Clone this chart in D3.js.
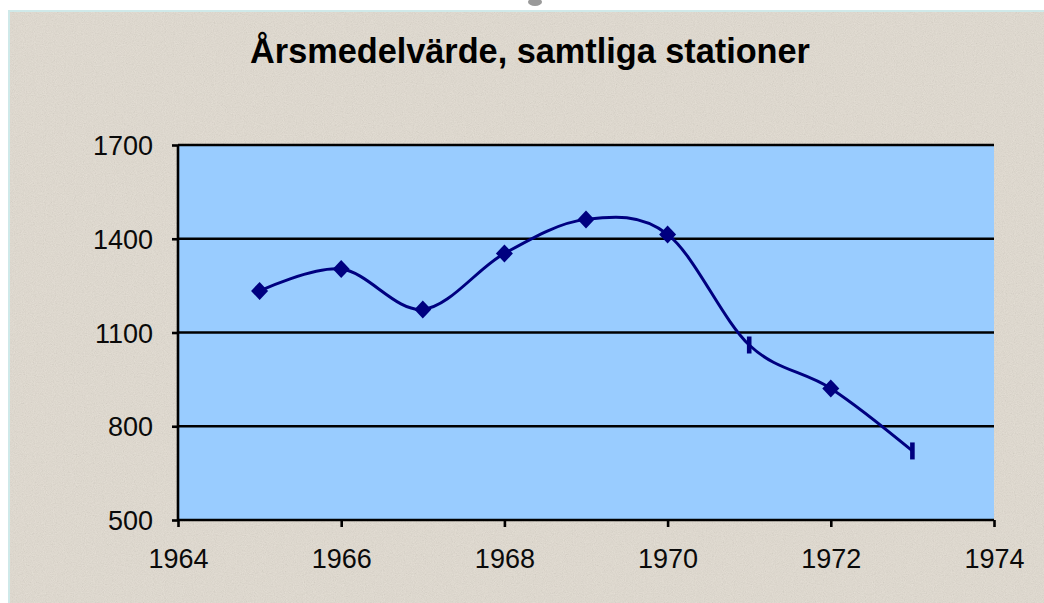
<!DOCTYPE html>
<html>
<head>
<meta charset="utf-8">
<script src="https://cdn.jsdelivr.net/npm/d3@7"></script>
<style>
  html, body { margin: 0; padding: 0; background: #ffffff; }
  svg { display: block; }
</style>
</head>
<body>
<svg id="chart" width="1044" height="603"></svg>
<script>
// ---- data ----
const title = "Årsmedelvärde, samtliga stationer";
const years = [1965, 1966, 1967, 1968, 1969, 1970, 1971, 1972, 1973];
const values = [1233, 1303, 1174, 1353, 1462, 1414, 1060, 921, 721];
const xTicks = [1964, 1966, 1968, 1970, 1972, 1974];
const yTicks = [500, 800, 1100, 1400, 1700];
const barMarkerYears = [1971, 1973];

// ---- layout ----
const W = 1044, H = 603;
const plot = { left: 178, right: 994, top: 145, bottom: 520 };
const svg = d3.select("#chart");
const defs = svg.append("defs");

const f = defs.append("filter").attr("id", "paper").attr("x", 0).attr("y", 0).attr("width", "100%").attr("height", "100%");
f.append("feTurbulence").attr("type", "fractalNoise").attr("baseFrequency", 0.9).attr("numOctaves", 3).attr("seed", 7);
f.append("feColorMatrix").attr("type", "matrix")
  .attr("values", "0.33 0.33 0.33 0 0  0.33 0.33 0.33 0 0  0.33 0.33 0.33 0 0  0 0 0 0 1");

// page
svg.append("rect").attr("width", W).attr("height", H).attr("fill", "#ffffff");
svg.append("rect").attr("x", 8).attr("y", 10).attr("width", W - 8).attr("height", H - 10).attr("fill", "#cfe9e9");
svg.append("rect").attr("x", 10).attr("y", 12).attr("width", W - 10).attr("height", H - 12).attr("fill", "#e6dfd3");
svg.append("rect").attr("x", 10).attr("y", 12).attr("width", W - 10).attr("height", H - 12)
  .attr("filter", "url(#paper)").attr("opacity", 0.2);
svg.append("ellipse").attr("cx", 535).attr("cy", 2).attr("rx", 7).attr("ry", 4).attr("fill", "#9a9a9a");

// title
const t = svg.append("text")
  .attr("x", 530).attr("y", 63)
  .attr("text-anchor", "middle")
  .attr("font-family", "Liberation Sans, Arial, sans-serif")
  .attr("font-weight", "bold")
  .attr("font-size", 25)
  .attr("fill", "#000")
  .text(title);
let fs = 25;
for (let i = 0; i < 6; i++) {
  const len = t.node().getComputedTextLength();
  fs = fs * 560 / len;
  t.attr("font-size", fs);
}

// scales
const x = d3.scaleLinear().domain([1964, 1974]).range([plot.left, plot.right]);
const y = d3.scaleLinear().domain([500, 1700]).range([plot.bottom, plot.top]);

// plot background
svg.append("rect")
  .attr("x", plot.left).attr("y", plot.top)
  .attr("width", plot.right - plot.left).attr("height", plot.bottom - plot.top)
  .attr("fill", "#99ccff");

// gridlines
svg.append("g").selectAll("line").data(yTicks.filter(d => d > 500)).join("line")
  .attr("x1", plot.left).attr("x2", plot.right)
  .attr("y1", d => y(d)).attr("y2", d => y(d))
  .attr("stroke", "#000").attr("stroke-width", 2.4);

// axes
const xAxis = svg.append("g").attr("transform", `translate(0,${plot.bottom})`)
  .call(d3.axisBottom(x).tickValues(xTicks).tickFormat(d3.format("d")).tickSize(7).tickPadding(22));
const yAxis = svg.append("g").attr("transform", `translate(${plot.left},0)`)
  .call(d3.axisLeft(y).tickValues(yTicks).tickFormat(d3.format("d")).tickSize(6).tickPadding(19));
[xAxis, yAxis].forEach(g => {
  g.select(".domain").attr("stroke", "#000").attr("stroke-width", 2.6)
    .attr("d", g === xAxis ? `M${plot.left},0H${plot.right}` : `M0,${plot.bottom}V${plot.top}`);
  g.selectAll(".tick line").attr("stroke", "#000").attr("stroke-width", 2.6);
  g.selectAll(".tick text")
    .attr("font-family", "Liberation Sans, Arial, sans-serif")
    .attr("font-size", 27).attr("fill", "#0a0a0a");
});
yAxis.selectAll(".tick text").attr("dy", "0.36em");

// line
const line = d3.line().x((d, i) => x(years[i])).y(d => y(d)).curve(d3.curveCardinal.tension(0));
svg.append("path").datum(values)
  .attr("d", line)
  .attr("fill", "none").attr("stroke", "#000080").attr("stroke-width", 3);

// markers
const pts = years.map((yr, i) => ({ yr, v: values[i] }));
svg.append("g").selectAll("path").data(pts).join("path")
  .attr("transform", d => `translate(${x(d.yr)},${y(d.v)})`)
  .attr("d", d => barMarkerYears.includes(d.yr) ? "M-2.3,-8.5H2.3V8.5H-2.3Z" : "M0,-9L8.5,0L0,9L-8.5,0Z")
  .attr("fill", "#000080");
</script>
</body>
</html>
